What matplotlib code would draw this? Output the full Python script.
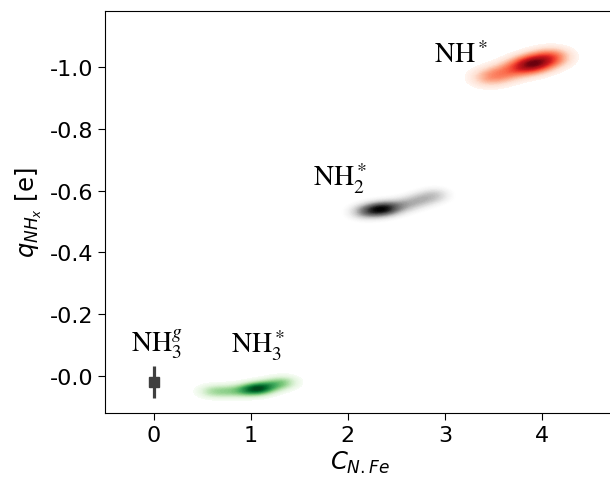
import numpy as np
import matplotlib
matplotlib.use("Agg")
from matplotlib import pyplot as plt

# values
# gas phase NH3: coordination 0, charge with error bar
gas_x = [0.0]
gas_q = [0.02]
gas_err = [0.052]

# points along the ridge of each adsorbed-species density cloud (C_N.Fe, q)
nh3_x = [0.6, 0.75, 0.9, 1.0, 1.05, 1.1, 1.15, 1.25, 1.35]
nh3_q = [0.05, 0.05, 0.048, 0.045, 0.043, 0.04, 0.036, 0.028, 0.02]
nh2_x = [2.15, 2.25, 2.32, 2.38, 2.45, 2.6, 2.75, 2.9]
nh2_q = [-0.53, -0.535, -0.54, -0.54, -0.545, -0.555, -0.57, -0.585]
nh_x = [3.45, 3.6, 3.75, 3.85, 3.9, 3.95, 4.05, 4.12]
nh_q = [-0.965, -0.98, -0.995, -1.005, -1.01, -1.015, -1.025, -1.035]

labels = [r'$\mathrm{NH}_3^g$', r'$\mathrm{NH}_3^*$', r'$\mathrm{NH}_2^*$', r'$\mathrm{NH}^*$']
label_x = [0.03, 1.07, 1.92, 3.16]
label_q = [-0.079, -0.076, -0.616, -1.017]


def cloud(ax, xs, qs, cmap, sx, sq):
    gx = np.linspace(-0.5, 4.8, 600)
    gq = np.linspace(-1.2, 0.15, 600)
    X, Q = np.meshgrid(gx, gq)
    d = np.zeros_like(X)
    for x0, q0 in zip(xs, qs):
        d += np.exp(-0.5 * (((X - x0) / sx) ** 2 + ((Q - q0) / sq) ** 2))
    d /= d.max()
    ax.contourf(X, Q, d, levels=np.linspace(0.05, 1.0, 60), cmap=cmap)


fig = plt.figure(figsize=(6.1, 4.81), dpi=100)
ax = fig.add_axes([0.1721, 0.1393, 0.836, 0.835])

cloud(ax, nh3_x, nh3_q, 'Greens', 0.1, 0.014)
cloud(ax, nh2_x, nh2_q, 'Greys', 0.11, 0.017)
cloud(ax, nh_x, nh_q, 'Reds', 0.13, 0.02)

ax.errorbar(gas_x, gas_q, yerr=gas_err, fmt='s', color='#404040',
            ms=6.5, elinewidth=2.3)

for t, x, q in zip(labels, label_x, label_q):
    ax.text(x, q, t, ha='center', va='baseline', fontsize=20,
            math_fontfamily='stix')

ax.set_xlim(-0.5, 4.75)
ax.set_ylim(0.12, -1.18)
ax.set_xticks([0, 1, 2, 3, 4])
ax.set_yticks(np.arange(-1.0, 0.1, 0.2))
ax.yaxis.set_major_formatter(matplotlib.ticker.FormatStrFormatter('%.1f'))
ax.tick_params(labelsize=16, length=5)
ax.set_xlabel(r'$C_{N.Fe}$', fontsize=17.5, labelpad=3)
ax.set_ylabel(r'$q_{NH_x}$ [e]', fontsize=17.5)

fig.savefig('out.png', dpi=100)
